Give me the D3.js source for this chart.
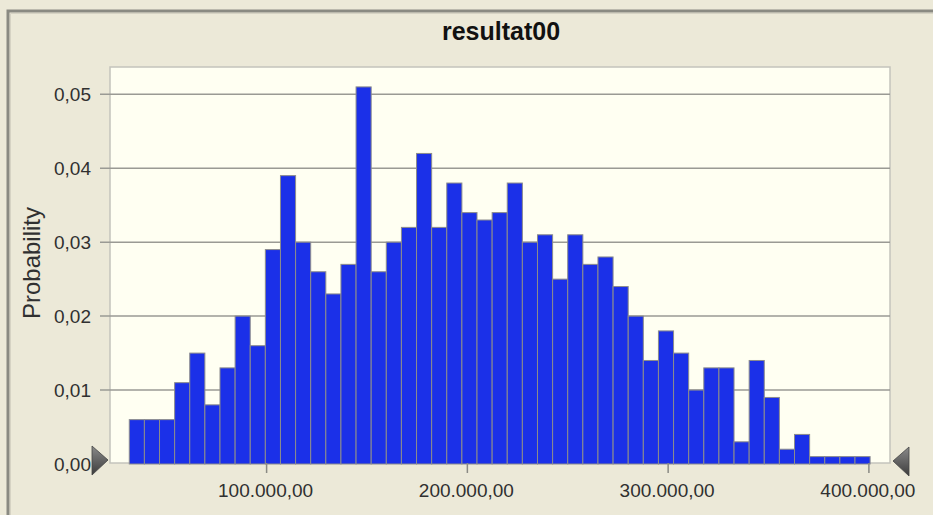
<html>
<style>
body { margin: 0; background: #ece9d8; }
text { font-family: "Liberation Sans", Arial, sans-serif; fill: #303030; }
.grid line { stroke: #9a9a94; stroke-width: 1.5px; }
.bar { fill: #1b30e8; stroke: #8c8c8c; stroke-width: 1px; }
</style>
<svg width="933" height="515"></svg>
<script src="https://cdn.jsdelivr.net/npm/d3@7"></script>
<script>

var svg = d3.select("svg"),
    width = +svg.attr("width"),
    height = +svg.attr("height"),
    plot = {left: 110, top: 67, right: 890, bottom: 463};

// histogram of resultat00, one probability per bin
var probabilities = [0.006, 0.006, 0.006, 0.011, 0.015, 0.008, 0.013, 0.020, 0.016, 0.029,
                     0.039, 0.030, 0.026, 0.023, 0.027, 0.051, 0.026, 0.030, 0.032, 0.042,
                     0.032, 0.038, 0.034, 0.033, 0.034, 0.038, 0.030, 0.031, 0.025, 0.031,
                     0.027, 0.028, 0.024, 0.020, 0.014, 0.018, 0.015, 0.010, 0.013, 0.013,
                     0.003, 0.014, 0.009, 0.002, 0.004, 0.001, 0.001, 0.001, 0.001];
var binMin = 31600,
    binMax = 400600;
var xTicks = [100000, 200000, 300000, 400000],
    xTickLabels = ["100.000,00", "200.000,00", "300.000,00", "400.000,00"];
var yTicks = [0, 0.01, 0.02, 0.03, 0.04, 0.05],
    yTickLabels = ["0,00", "0,01", "0,02", "0,03", "0,04", "0,05"];

var binWidth = (binMax - binMin) / probabilities.length;
var bins = probabilities.map(function(p, i) {
  return {x0: binMin + i * binWidth, x1: binMin + (i + 1) * binWidth, p: p};
});

var x = d3.scaleLinear()
    .domain([100000, 400000])
    .range([266.6, 868.9]);

var y = d3.scaleLinear()
    .domain([0, 0.05])
    .range([464, 94.3]);

svg.append("rect")
    .attr("width", width)
    .attr("height", height)
    .attr("fill", "#ece9d8");

// window frame
svg.append("path")
    .attr("d", "M8," + height + "V11H" + width)
    .attr("fill", "none")
    .attr("stroke", "#8a8a82")
    .attr("stroke-width", 3);
svg.append("path")
    .attr("d", "M10.5," + height + "V13.5H" + width)
    .attr("fill", "none")
    .attr("stroke", "#d6d3c4")
    .attr("stroke-width", 1);

svg.append("text")
    .attr("x", 501)
    .attr("y", 40)
    .attr("text-anchor", "middle")
    .style("font-weight", "bold")
    .style("font-size", "25px")
    .style("fill", "#111")
    .text("resultat00");

// plot area
svg.append("rect")
    .attr("x", plot.left)
    .attr("y", plot.top)
    .attr("width", plot.right - plot.left)
    .attr("height", plot.bottom - plot.top)
    .attr("fill", "#fffff2")
    .attr("stroke", "#c4c4bc")
    .attr("stroke-width", 1.5);

var grid = svg.append("g").attr("class", "grid");
grid.selectAll("line")
  .data(yTicks.slice(1))
  .enter().append("line")
    .attr("x1", plot.left - 10)
    .attr("x2", plot.right)
    .attr("y1", function(d) { return y(d); })
    .attr("y2", function(d) { return y(d); });

svg.append("g").selectAll("text")
  .data(yTicks)
  .enter().append("text")
    .attr("x", 91)
    .attr("y", function(d) { return y(d) + 7; })
    .attr("text-anchor", "end")
    .style("font-size", "19px")
    .text(function(d, i) { return yTickLabels[i]; });

svg.append("g").selectAll("rect")
  .data(bins)
  .enter().append("rect")
    .attr("class", "bar")
    .attr("x", function(d) { return x(d.x0); })
    .attr("width", function(d) { return x(d.x1) - x(d.x0); })
    .attr("y", function(d) { return y(d.p); })
    .attr("height", function(d) { return y(0) - y(d.p); });

var xAxis = svg.append("g");
xAxis.selectAll("line")
  .data(xTicks)
  .enter().append("line")
    .attr("x1", function(d) { return x(d); })
    .attr("x2", function(d) { return x(d); })
    .attr("y1", plot.bottom)
    .attr("y2", plot.bottom + 10)
    .attr("stroke", "#8a8a84")
    .attr("stroke-width", 1.5);
xAxis.selectAll("text")
  .data(xTicks)
  .enter().append("text")
    .attr("x", function(d) { return x(d) - 1; })
    .attr("y", 497)
    .attr("text-anchor", "middle")
    .style("font-size", "19px")
    .text(function(d, i) { return xTickLabels[i]; });

svg.append("text")
    .attr("transform", "translate(40,263) rotate(-90)")
    .attr("text-anchor", "middle")
    .style("font-size", "24px")
    .text("Probability");

// range slider arrows
var grad = svg.append("defs").append("linearGradient")
    .attr("id", "arrowGrad")
    .attr("x1", 0).attr("y1", 0).attr("x2", 0).attr("y2", 1);
grad.append("stop").attr("offset", "0%").attr("stop-color", "#8a8a8a");
grad.append("stop").attr("offset", "100%").attr("stop-color", "#3c3c3c");

svg.append("path")
    .attr("d", "M92,446L108,460L92,475Z")
    .attr("fill", "url(#arrowGrad)")
    .attr("stroke", "#444")
    .attr("stroke-width", 0.8);
svg.append("path")
    .attr("d", "M909,447L893,461L909,476Z")
    .attr("fill", "url(#arrowGrad)")
    .attr("stroke", "#444")
    .attr("stroke-width", 0.8);

</script>
</html>
